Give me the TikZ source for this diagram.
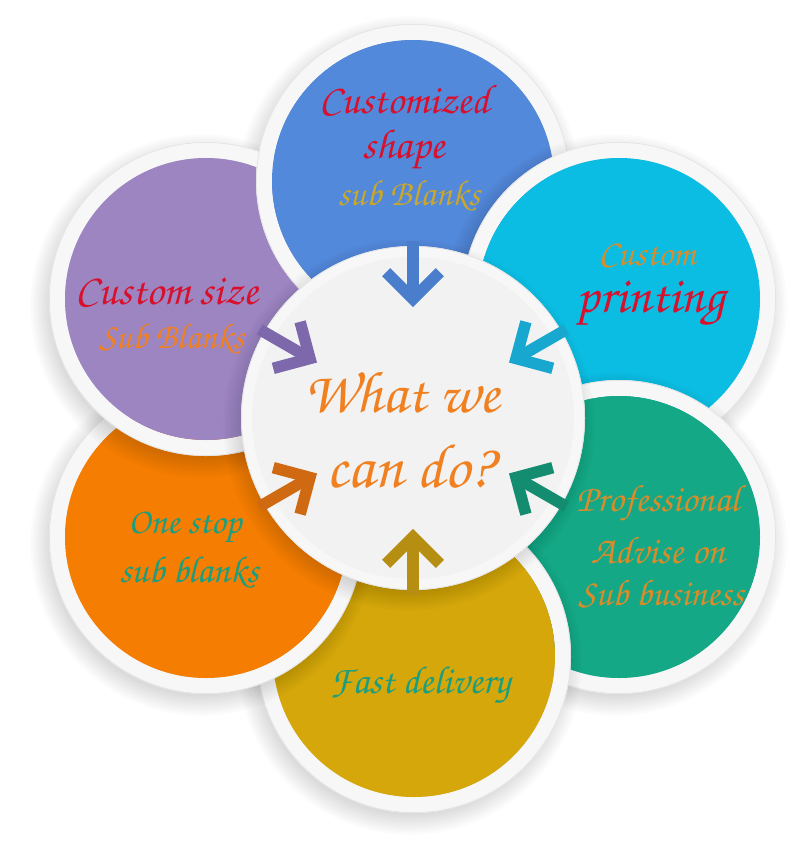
\documentclass[tikz,border=0pt]{standalone}
\usepackage[T1]{fontenc}
\usepackage{fontspec}
\usepackage{graphicx}
\usetikzlibrary{calc}
\newcommand{\zapf}{\fontencoding{T1}\fontfamily{pzc}\fontseries{mb}\fontshape{it}\selectfont}
\newcommand{\tw}[2]{\resizebox{#1pt}{!}{\zapf #2}}
\definecolor{cBlue}{HTML}{5389DA}
\definecolor{cCyan}{HTML}{0CBDE3}
\definecolor{cTeal}{HTML}{14A886}
\definecolor{cGold}{HTML}{D5A70B}
\definecolor{cOrange}{HTML}{F57D02}
\definecolor{cPurple}{HTML}{9D85C2}
\definecolor{aBlue}{HTML}{4A7DCC}
\definecolor{aCyan}{HTML}{18A8CF}
\definecolor{aTeal}{HTML}{138C70}
\definecolor{aGold}{HTML}{B58E12}
\definecolor{aOrange}{HTML}{CF6A12}
\definecolor{aPurple}{HTML}{7E68AC}
\definecolor{ringc}{HTML}{F7F7F7}
\definecolor{ringedge}{HTML}{E4E4E4}
\definecolor{centc}{HTML}{F2F2F2}
\definecolor{tRed}{HTML}{D8102C}
\definecolor{tOrange}{HTML}{F08020}
\definecolor{tAmber}{HTML}{DB8C2A}
\definecolor{tGold}{HTML}{C9A62C}
\definecolor{tTeal}{HTML}{1A9E80}
\newcommand{\myshadow}[1]{%
  \foreach \k in {1,...,9}{\fill[black,opacity=0.014] ($(#1)+(-4,7)$) circle[radius=150+\k*2.4];}}
\newcommand{\mypetal}[2]{%
  \fill[ringc,even odd rule] (#1) circle[radius=157] (#1) circle[radius=141];
  \draw[ringedge,line width=0.8] (#1) circle[radius=156.6];
  \fill[#2] (#1) circle[radius=141];}
\newcommand{\myarrow}[3]{%
  \coordinate (#1s) at ($(O)+(#2:177)$);
  \coordinate (#1t) at ($(O)+(#2:119)$);
  \coordinate (#1l) at ($(#1t)+(#2+45:38)$);
  \coordinate (#1r) at ($(#1t)+(#2-45:38)$);
  \draw[shaftst,#3] (#1s) -- (#1t);
  \draw[headst,#3] (#1l) -- (#1t) -- (#1r);}
\tikzset{
  shaftst/.style={line width=11.5pt},
  headst/.style={line width=11.5pt, line join=miter},
  lbl/.style={inner sep=0pt, anchor=center}
}
\begin{document}
\begin{tikzpicture}[x=1pt,y=-1pt]
\useasboundingbox (0,0) rectangle (800,865);
\fill[white] (0,0) rectangle (800,865);
\coordinate (O) at (413,418);
\coordinate (pB) at (413,181);
\coordinate (pC) at (619,299);
\coordinate (pT) at (619,537);
\coordinate (pY) at (414,656);
\coordinate (pO) at (206,537);
\coordinate (pP) at (206,299);
% petals, cyclic overlap
\myshadow{pB}\mypetal{pB}{cBlue}
\myshadow{pC}\mypetal{pC}{cCyan}
\myshadow{pT}\mypetal{pT}{cTeal}
\myshadow{pY}\mypetal{pY}{cGold}
\myshadow{pO}\mypetal{pO}{cOrange}
\myshadow{pP}\mypetal{pP}{cPurple}
\begin{scope}
  \clip (0,0) rectangle (413,360);
  \mypetal{pB}{cBlue}
\end{scope}
% centre
\foreach \k in {1,...,9}{\fill[black,opacity=0.014] ($(O)+(-4,7)$) circle[radius=164+\k*2.4];}
\fill[ringc] (O) circle[radius=172];
\draw[ringedge,line width=0.8] (O) circle[radius=171.6];
\fill[centc] (O) circle[radius=161];
% arrows
\myarrow{aB}{-90}{aBlue}
\myarrow{aC}{-30}{aCyan}
\myarrow{aT}{30}{aTeal}
\myarrow{aY}{90}{aGold}
\myarrow{aO}{150}{aOrange}
\myarrow{aP}{-150}{aPurple}
% texts
\node[lbl,text=tRed] (t1) at (405,99) {\tw{170}{Customized}};
\node[lbl,text=tRed] (t2) at (404,150) {\tw{82}{shape}};
\node[lbl,text=tGold] (t3) at (409,196) {\tw{142}{sub Blanks}};
\node[lbl,text=tRed] (t4) at (167,291) {\tw{182}{Custom size}};
\node[lbl,text=tOrange] (t5) at (172,339) {\tw{145}{Sub Blanks}};
\node[lbl,text=tAmber] (t6) at (647,254) {\tw{97}{Custom}};
\node[lbl,text=tRed] (t7) at (651,305) {\tw{148}{printing}};
\node[lbl,text=tOrange] (t8) at (402,392) {\tw{195}{What we}};
\node[lbl,text=tOrange] (t9) at (410,466) {\tw{167}{can do?}};
\node[lbl,text=tAmber] (t10) at (658,504) {\tw{163}{Professional}};
\node[lbl,text=tAmber] (t11) at (658,550) {\tw{134}{Advise on}};
\node[lbl,text=tAmber] (t12) at (661,594) {\tw{165}{Sub business}};
\node[lbl,text=tTeal] (t13) at (185,528) {\tw{113}{One stop}};
\node[lbl,text=tTeal] (t14) at (189,572) {\tw{139}{sub blanks}};
\node[lbl,text=tTeal] (t15) at (420,686) {\tw{180}{Fast delivery}};
\end{tikzpicture}
\end{document}
